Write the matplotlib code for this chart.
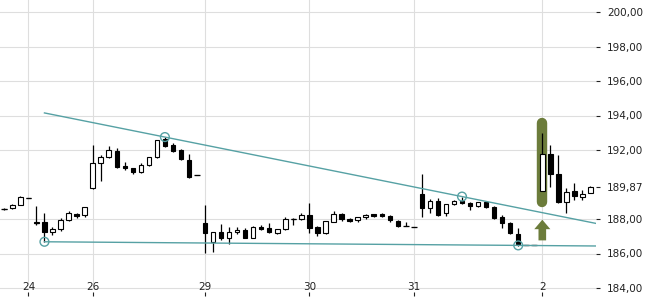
import matplotlib
matplotlib.use("Agg")
import matplotlib.pyplot as plt
import numpy as np

# hourly candles, one slot per candle (gaps between sessions are not shown)
opens = [188.58, 188.62, 188.81, 189.20, 187.79, 187.81, 187.26, 187.40, 187.94, 188.27, 188.23,
         189.81, 191.23, 191.58, 191.94, 191.07, 190.94, 190.74, 191.13, 191.58, 192.62, 192.29, 192.00, 191.42, 190.55,
         187.75, 186.65, 187.26, 186.92, 187.23, 187.36, 186.92, 187.55, 187.46, 187.21, 187.40, 187.98, 187.98, 188.23,
         187.52, 187.17, 187.84, 188.29, 187.98, 187.94, 188.13, 188.27, 188.29, 188.17, 187.88, 187.59, 187.54,
         189.45, 188.62, 189.06, 188.36, 188.85, 189.06, 188.94, 188.75, 189.00, 188.71, 188.10, 187.79, 187.13, 186.49, 186.49,
         189.64, 191.77, 190.61, 188.97, 189.64, 189.29, 189.49]
highs = [188.65, 188.85, 189.32, 189.20, 188.75, 188.33, 187.55, 188.04, 188.46, 188.33, 188.71,
         192.29, 191.71, 192.23, 192.10, 191.32, 190.97, 191.23, 191.60, 192.60, 192.78, 192.39, 192.05, 191.75, 190.55,
         188.81, 187.26, 187.69, 187.55, 187.55, 187.45, 187.58, 187.65, 187.78, 187.42, 188.10, 188.04, 188.35, 188.91,
         187.59, 187.90, 188.48, 188.35, 188.03, 188.12, 188.27, 188.30, 188.33, 188.23, 187.94, 187.85, 187.54,
         190.61, 189.14, 189.20, 188.87, 189.10, 189.30, 188.96, 189.00, 189.02, 188.75, 188.23, 187.85, 187.46, 186.49, 186.49,
         192.97, 192.29, 191.71, 189.78, 190.07, 189.70, 189.92]
lows = [188.50, 188.60, 188.80, 189.20, 187.65, 186.68, 187.07, 187.32, 187.90, 188.04, 188.10,
        189.72, 190.20, 191.52, 190.94, 190.84, 190.60, 190.65, 191.10, 191.55, 192.20, 191.87, 191.42, 190.40, 190.55,
        186.01, 186.10, 186.78, 186.53, 187.11, 186.88, 186.90, 187.38, 187.20, 187.11, 187.38, 187.65, 187.96, 187.17,
        187.01, 187.15, 187.82, 187.90, 187.80, 187.82, 188.00, 188.10, 188.10, 187.80, 187.52, 187.59, 187.54,
        188.13, 188.36, 188.20, 188.18, 188.80, 188.85, 188.50, 188.70, 188.65, 188.00, 187.46, 187.13, 186.45, 186.49, 186.49,
        189.60, 189.84, 188.91, 188.36, 189.10, 189.10, 189.48]
closes = [188.58, 188.82, 189.29, 189.20, 187.79, 187.23, 187.42, 187.94, 188.33, 188.19, 188.68,
          191.23, 191.58, 192.00, 191.03, 190.97, 190.74, 191.13, 191.58, 192.58, 192.25, 191.96, 191.46, 190.42, 190.55,
          187.17, 187.23, 186.92, 187.23, 187.36, 186.92, 187.55, 187.42, 187.23, 187.40, 187.98, 187.98, 188.23, 187.50,
          187.17, 187.88, 188.27, 187.98, 187.86, 188.10, 188.23, 188.17, 188.17, 187.94, 187.59, 187.59, 187.54,
          188.62, 189.04, 188.23, 188.85, 189.06, 188.91, 188.75, 188.99, 188.68, 188.04, 187.75, 187.17, 186.55, 186.49, 186.49,
          191.77, 190.61, 188.97, 189.58, 189.35, 189.43, 189.87]

day_slots = [3, 11, 25, 38, 51, 67]
day_labels = ["24", "26", "29", "30", "31", "2"]
price_ticks = [184, 186, 188, 192, 194, 196, 198, 200]

# trend lines: two touch points each
resist_pts = [(20, 192.75), (57, 189.30)]
support_pts = [(5, 186.68), (64, 186.47)]
line_start = 5
signal_slot = 67

teal = "#56a1a4"
olive = "#6c7c3b"
grid_c = "#dedede"

x = np.arange(len(opens))
o = np.array(opens); c = np.array(closes)
h = np.array(highs); l = np.array(lows)

fig = plt.figure(figsize=(6.5, 3.0), dpi=100)
ax = fig.add_axes([0, 4 / 300, 596 / 650, 296 / 300])
xmax = (596 - 4.3) / 8.03
ax.set_xlim(-4.3 / 8.03, xmax)
ax.set_ylim(200 - 284 / 17.25, 200 + 12 / 17.25)

# grid
for p in price_ticks:
    ax.axhline(p, color=grid_c, lw=0.8, zorder=0)
for s in day_slots:
    ax.axvline(s, color=grid_c, lw=0.8, zorder=0, ymin=0.044)

# highlight behind the signal candle
ax.plot([signal_slot, signal_slot], [l[signal_slot] - 0.6, h[signal_slot] + 0.6],
        color=olive, lw=7.5, solid_capstyle="round", zorder=1)
ax.arrow(signal_slot, 186.76, 0, 1.2, width=0.95, head_width=2.0, head_length=0.55,
         length_includes_head=True, color=olive, lw=0, zorder=1)

# candles
ax.vlines(x, l, h, color="black", lw=0.9, zorder=2)
up = c >= o
body = np.maximum(np.abs(c - o), 0.015)
ax.bar(x[up], body[up], bottom=np.minimum(o, c)[up], width=0.55,
       facecolor="white", edgecolor="black", lw=0.8, zorder=3)
ax.bar(x[~up], body[~up], bottom=np.minimum(o, c)[~up], width=0.55,
       facecolor="black", edgecolor="black", lw=0.8, zorder=3)
flat = np.abs(c - o) < 0.01
ax.hlines(c[flat], x[flat] - 0.35, x[flat] + 0.35, color="black", lw=0.9, zorder=3)

# trend lines
for pts in (resist_pts, support_pts):
    (x1, y1), (x2, y2) = pts
    k = (y2 - y1) / (x2 - x1)
    xs = np.array([line_start, xmax])
    ax.plot(xs, y1 + k * (xs - x1), color=teal, lw=1.0, zorder=4)
    ax.scatter([x1, x2], [y1, y2], s=40, facecolors="none", edgecolors=teal, lw=1.0, zorder=5)

# axes
for sp in ax.spines.values():
    sp.set_visible(False)
ax.yaxis.tick_right()
ax.set_yticks(price_ticks)
ax.set_yticklabels([f"{p:.2f}".replace(".", ",") for p in price_ticks])
ax.set_yticks([closes[-1]], minor=True)
ax.set_yticklabels([f"{closes[-1]:.2f}".replace(".", ",")], minor=True)
ax.tick_params(axis="y", which="both", direction="out", length=3, width=0.8, pad=5,
               labelsize=7.5, colors="#222222")
ax.set_xticks(day_slots)
ax.set_xticklabels([])
ax.tick_params(axis="x", direction="in", length=3, width=0.8, colors="#222222")
for s, lab in zip(day_slots, day_labels):
    ax.text(s, 184.05, lab, ha="center", va="center", fontsize=7.5, color="#222222", zorder=6)

fig.savefig("out.png", dpi=100)
